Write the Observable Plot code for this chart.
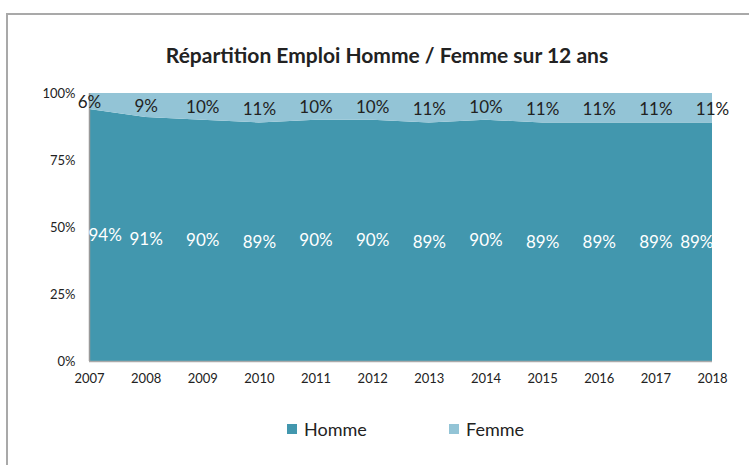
<!DOCTYPE html>
<html><head><meta charset="utf-8">
<script src="https://cdn.jsdelivr.net/npm/d3@7"></script>
<script src="https://cdn.jsdelivr.net/npm/@observablehq/plot@0.6"></script>
<style>
body{margin:0;background:#fff;font-family:Lato,"Open Sans",sans-serif;}
#wrap{position:relative;width:749px;height:465px;overflow:hidden;}
#frame{position:absolute;left:6px;top:13px;width:760px;height:470px;border:2px solid #a9a9a9;box-sizing:border-box;}
#title{position:absolute;left:0;width:774px;top:42px;text-align:center;font-weight:bold;font-size:21px;color:#222;}
#chart{position:absolute;left:0;top:0;}
#legend{position:absolute;top:418px;left:0;width:749px;font-size:18px;color:#222;}
.li{position:absolute;display:flex;align-items:center;}
.sw{width:10px;height:10px;margin-right:7px;}
</style></head>
<body><div id="wrap"><div id="frame"></div><div id="title">Répartition Emploi Homme / Femme sur 12 ans</div><div id="chart"></div><div id="legend"></div></div>
<script>
const years = [2007,2008,2009,2010,2011,2012,2013,2014,2015,2016,2017,2018];
const homme = [94,91,90,89,90,90,89,90,89,89,89,89];
const femme = [6,9,10,11,10,10,11,10,11,11,11,11];
const series = ["Homme","Femme"];
const colors = ["#4297ae","#93c4d6"];
const yTicks = [0,25,50,75,100];

const data = [];
years.forEach((y,i)=>{
  data.push({year:y, series:"Homme", value:homme[i], mid:homme[i]/2});
  data.push({year:y, series:"Femme", value:femme[i], mid:homme[i]+femme[i]/2});
});
const H = data.filter(d=>d.series==="Homme");
const F = data.filter(d=>d.series==="Femme");
const first = years[0], last = years[years.length-1];
const hText = {x:"year", y:"mid", text:d=>d.value+"%", fill:"white", fontSize:17};

const plot = Plot.plot({
  width:749, height:400,
  marginLeft:89, marginRight:37, marginTop:93, marginBottom:39,
  style:{fontFamily:"Lato, sans-serif", fontSize:"13px", color:"#222", background:"transparent"},
  x:{type:"linear", domain:[first,last], ticks:years, tickFormat:"d", tickSize:0, tickPadding:12, label:null},
  y:{domain:[0,100], ticks:yTicks, tickFormat:d=>d+"%", tickSize:0, tickPadding:14, label:null},
  color:{domain:series, range:colors},
  marks:[
    Plot.areaY(data,{x:"year", y:"value", fill:"series", order:series}),
    Plot.ruleX([first],{stroke:"#999", strokeWidth:1.5}),
    Plot.ruleY([0],{stroke:"#aaa", strokeWidth:1.5}),
    Plot.text(H.filter(d=>d.year!==first && d.year!==last), hText),
    Plot.text(H.filter(d=>d.year===first), {...hText, textAnchor:"start", dx:-1}),
    Plot.text(H.filter(d=>d.year===last), {...hText, textAnchor:"end", dx:1}),
    Plot.text(F,{x:"year", y:"mid", text:d=>d.value+"%", fill:"#222", fontSize:17, dy:1})
  ]
});
document.getElementById("chart").appendChild(plot);

const lg = document.getElementById("legend");
const lx = [287,449];
series.forEach((s,i)=>{
  const el = document.createElement("div");
  el.className="li"; el.style.left=lx[i]+"px";
  el.innerHTML = `<span class="sw" style="background:${colors[i]}"></span><span>${s}</span>`;
  lg.appendChild(el);
});
</script></body></html>
